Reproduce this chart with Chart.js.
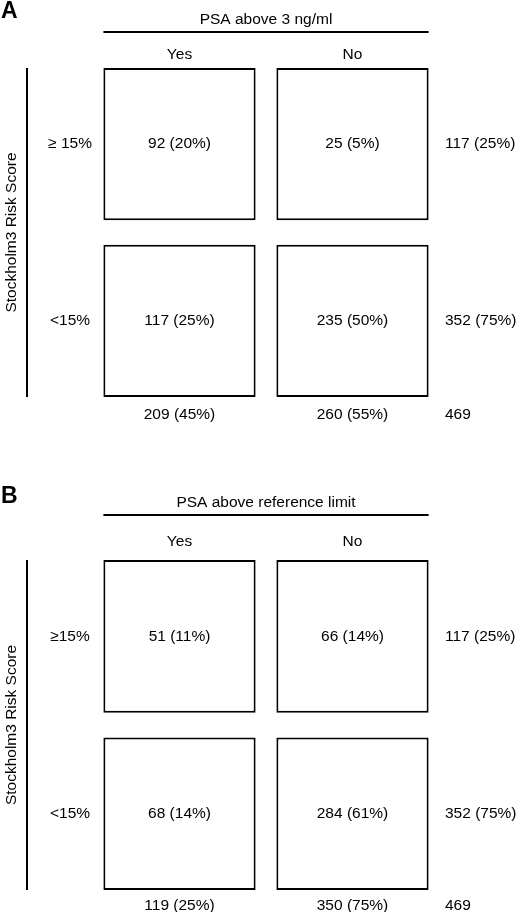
<!DOCTYPE html>
<html>
<head>
<meta charset="utf-8">
<script src="https://cdn.jsdelivr.net/npm/chart.js@4"></script>
<style>
  body { margin: 0; background: #fff; }
  .panel { position: absolute; left: 0; width: 520px; }
</style>
</head>
<body>
<div class="panel" style="top:0;height:456px"><canvas id="chartA"></canvas></div>
<div class="panel" style="top:456px;height:456px"><canvas id="chartB"></canvas></div>
<script>
// data
const colLabels = ['Yes', 'No'];
const rowLabelsA = ['\u2265 15%', '<15%'];
const rowLabelsB = ['\u226515%', '<15%'];
const countsA_high = [92, 25];
const countsA_low = [117, 235];
const countsB_high = [51, 66];
const countsB_low = [68, 284];
const yTitle = 'Stockholm3 Risk Score';

const FONT = '"Liberation Sans", Arial, sans-serif';

function pct(n, total) {
  return n + ' (' + Math.round(n / total * 100) + '%)';
}

function drawPanel(id, opts) {
  const high = opts.high, low = opts.low;
  const total = high[0] + high[1] + low[0] + low[1];

  const textPlugin = {
    id: 'tableText',
    afterDraw(chart) {
      const ctx = chart.ctx;
      const area = chart.chartArea;
      const x = chart.scales.x;
      ctx.save();
      ctx.fillStyle = '#000';
      ctx.strokeStyle = '#000';
      ctx.textBaseline = 'middle';

      // panel letter
      ctx.font = 'bold 23px ' + FONT;
      ctx.textAlign = 'left';
      ctx.fillText(opts.letter, 1, opts.letterY);

      // column header + line
      ctx.font = '15.5px ' + FONT;
      ctx.textAlign = 'center';
      const left = chart.getDatasetMeta(0).data[0];
      const right = chart.getDatasetMeta(0).data[1];
      const x0 = left.x - left.width / 2, x1 = right.x + right.width / 2;
      ctx.fillText(opts.title, (x0 + x1) / 2, opts.titleY);
      ctx.lineWidth = 2;
      ctx.beginPath();
      ctx.moveTo(x0, opts.lineY);
      ctx.lineTo(x1, opts.lineY);
      ctx.stroke();
      colLabels.forEach((c, i) => ctx.fillText(c, x.getPixelForValue(i), opts.colY));

      // vertical line + y title
      ctx.beginPath();
      ctx.moveTo(27, area.top);
      ctx.lineTo(27, area.bottom);
      ctx.stroke();
      ctx.save();
      ctx.translate(12, (area.top + area.bottom) / 2);
      ctx.rotate(-Math.PI / 2);
      ctx.fillText(yTitle, 0, 0);
      ctx.restore();

      // cells, row labels, row totals
      [high, low].forEach((row, r) => {
        const meta = chart.getDatasetMeta(r);
        const cy = (meta.data[0].y + meta.data[0].base) / 2;
        ctx.textAlign = 'center';
        row.forEach((v, i) => ctx.fillText(pct(v, total), meta.data[i].x, cy));
        ctx.fillText(opts.rows[r], 70, cy);
        ctx.textAlign = 'left';
        ctx.fillText(pct(row[0] + row[1], total), 445, cy);
      });

      // column totals
      const by = area.bottom + opts.totalGap;
      ctx.textAlign = 'center';
      colLabels.forEach((c, i) =>
        ctx.fillText(pct(high[i] + low[i], total), x.getPixelForValue(i), by));
      ctx.textAlign = 'left';
      ctx.fillText(String(total), 445, by);
      ctx.restore();
    }
  };

  new Chart(document.getElementById(id), {
    type: 'bar',
    data: {
      labels: colLabels,
      datasets: [
        { label: opts.rows[0], data: high.map(() => [1.075, 2]), grouped: false },
        { label: opts.rows[1], data: low.map(() => [0, 0.925]), grouped: false }
      ].map(d => Object.assign(d, {
        backgroundColor: '#fff',
        borderColor: '#000',
        borderWidth: 2,
        borderSkipped: false,
        barPercentage: 0.88,
        categoryPercentage: 1
      }))
    },
    options: {
      responsive: true,
      maintainAspectRatio: false,
      animation: false,
      layout: { padding: { left: 93, right: 81, top: opts.padTop, bottom: opts.padBottom } },
      scales: {
        x: { display: false },
        y: { display: false, min: 0, max: 2 }
      },
      plugins: { legend: { display: false }, tooltip: { enabled: false } }
    },
    plugins: [textPlugin]
  });
}

drawPanel('chartA', {
  letter: 'A', title: 'PSA above 3 ng/ml', rows: rowLabelsA,
  high: countsA_high, low: countsA_low,
  letterY: 12, titleY: 20, lineY: 32, colY: 55,
  padTop: 68, padBottom: 59, totalGap: 18
});
drawPanel('chartB', {
  letter: 'B', title: 'PSA above reference limit', rows: rowLabelsB,
  high: countsB_high, low: countsB_low,
  letterY: 41, titleY: 47, lineY: 59, colY: 86,
  padTop: 104, padBottom: 22, totalGap: 16
});
</script>
</body>
</html>
